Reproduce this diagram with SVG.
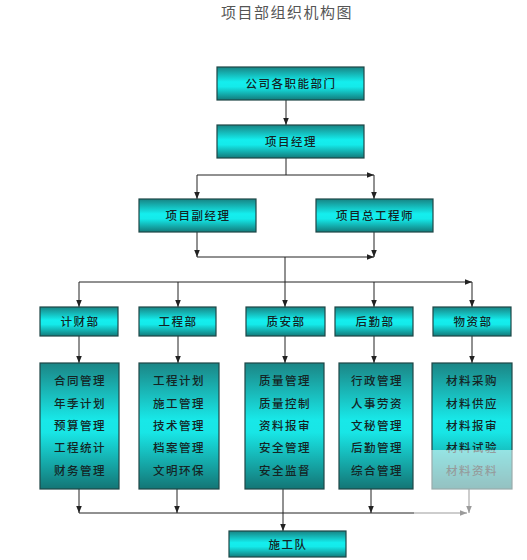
<svg xmlns="http://www.w3.org/2000/svg" width="527" height="560" viewBox="0 0 527 560">
<defs>
<linearGradient id="gBox" x1="0" y1="0" x2="0" y2="1">
<stop offset="0" stop-color="#178484"/>
<stop offset="0.45" stop-color="#14eeee"/>
<stop offset="0.6" stop-color="#14eaea"/>
<stop offset="1" stop-color="#127a7a"/>
</linearGradient>
<linearGradient id="gDet" x1="0" y1="0" x2="0" y2="1">
<stop offset="0" stop-color="#1b8585"/>
<stop offset="0.45" stop-color="#18e8e8"/>
<stop offset="0.55" stop-color="#18e6e6"/>
<stop offset="1" stop-color="#137575"/>
</linearGradient>
<marker id="ar" viewBox="0 0 10 10" refX="10" refY="5" markerWidth="7" markerHeight="7" markerUnits="userSpaceOnUse" orient="auto">
<path d="M0,1 L10,5 L0,9 Z" fill="#222"/>
</marker>
</defs>
<style>
.box{fill:url(#gBox);stroke:#1e4646;stroke-width:1.2}
.det{fill:url(#gDet);stroke:#1e4646;stroke-width:1.2}
.t{font-family:"Noto Sans CJK SC","Noto Sans CJK TC",sans-serif;font-size:11.5px;font-weight:500;fill:#142424;text-anchor:middle;letter-spacing:1.5px}
.ln{stroke:#222;stroke-width:1;fill:none}
.arr{stroke:#222;stroke-width:1;fill:none;marker-end:url(#ar)}
</style>
<rect width="527" height="560" fill="#ffffff"/>
<text x="287" y="18" style="font-family:'Noto Sans CJK SC',sans-serif;font-size:15px;fill:#555;text-anchor:middle;letter-spacing:1.5px">项目部组织机构图</text>

<g id="connectors">
<line class="arr" x1="286" y1="100" x2="286" y2="125"/>
<line class="ln" x1="286" y1="158" x2="286" y2="175"/>
<line class="arr" x1="197" y1="175" x2="374" y2="175"/>
<line class="arr" x1="197" y1="175" x2="197" y2="199"/>
<line class="arr" x1="374" y1="175" x2="374" y2="199"/>
<line class="arr" x1="197" y1="232" x2="197" y2="257"/>
<line class="arr" x1="374" y1="232" x2="374" y2="257"/>
<line class="arr" x1="197" y1="257" x2="374" y2="257"/>
<line class="ln" x1="285" y1="257" x2="285" y2="282"/>
<line class="arr" x1="79" y1="282" x2="472" y2="282"/>
<line class="arr" x1="79" y1="282" x2="79" y2="307"/>
<line class="arr" x1="178" y1="282" x2="178" y2="307"/>
<line class="arr" x1="285" y1="282" x2="285" y2="307"/>
<line class="arr" x1="374" y1="282" x2="374" y2="307"/>
<line class="arr" x1="472" y1="282" x2="472" y2="307"/>
<line class="arr" x1="79" y1="336" x2="79" y2="363"/>
<line class="arr" x1="178" y1="336" x2="178" y2="363"/>
<line class="arr" x1="285" y1="336" x2="285" y2="363"/>
<line class="arr" x1="374" y1="336" x2="374" y2="363"/>
<line class="arr" x1="472" y1="336" x2="472" y2="363"/>
<line class="arr" x1="79" y1="489" x2="79" y2="513"/>
<line class="arr" x1="177" y1="489" x2="177" y2="513"/>
<line class="arr" x1="371" y1="489" x2="371" y2="513"/>
<line class="arr" x1="469" y1="489" x2="469" y2="513"/>
<line class="arr" x1="79" y1="513" x2="467" y2="513"/>
<line class="arr" x1="283" y1="489" x2="283" y2="531"/>
</g>

<g id="n-company"><rect class="box" x="217" y="67" width="147" height="33"/><text class="t" x="291" y="88">公司各职能部门</text></g>
<g id="n-pm"><rect class="box" x="217" y="125" width="147" height="33"/><text class="t" x="291" y="146">项目经理</text></g>
<g id="n-dpm"><rect class="box" x="139" y="199" width="117" height="33"/><text class="t" x="198" y="220">项目副经理</text></g>
<g id="n-ce"><rect class="box" x="316" y="199" width="117" height="33"/><text class="t" x="375" y="220">项目总工程师</text></g>

<g id="n-fin"><rect class="box" x="40" y="307" width="78" height="29"/><text class="t" x="80" y="326">计财部</text></g>
<g id="n-eng"><rect class="box" x="139" y="307" width="77" height="29"/><text class="t" x="178" y="326">工程部</text></g>
<g id="n-qs"><rect class="box" x="246" y="307" width="79" height="29"/><text class="t" x="286" y="326">质安部</text></g>
<g id="n-log"><rect class="box" x="335" y="307" width="78" height="29"/><text class="t" x="375" y="326">后勤部</text></g>
<g id="n-mat"><rect class="box" x="433" y="307" width="78" height="29"/><text class="t" x="473" y="326">物资部</text></g>

<g id="n-fin-d"><rect class="det" x="40" y="363" width="79" height="126"/>
<text class="t" x="80" y="385">合同管理</text><text class="t" x="80" y="408">年季计划</text><text class="t" x="80" y="430">预算管理</text><text class="t" x="80" y="452">工程统计</text><text class="t" x="80" y="475">财务管理</text></g>
<g id="n-eng-d"><rect class="det" x="139" y="363" width="80" height="126"/>
<text class="t" x="179" y="385">工程计划</text><text class="t" x="179" y="408">施工管理</text><text class="t" x="179" y="430">技术管理</text><text class="t" x="179" y="452">档案管理</text><text class="t" x="179" y="475">文明环保</text></g>
<g id="n-qs-d"><rect class="det" x="245" y="363" width="79" height="126"/>
<text class="t" x="285" y="385">质量管理</text><text class="t" x="285" y="408">质量控制</text><text class="t" x="285" y="430">资料报审</text><text class="t" x="285" y="452">安全管理</text><text class="t" x="285" y="475">安全监督</text></g>
<g id="n-log-d"><rect class="det" x="339" y="363" width="74" height="126"/>
<text class="t" x="377" y="385">行政管理</text><text class="t" x="377" y="408">人事劳资</text><text class="t" x="377" y="430">文秘管理</text><text class="t" x="377" y="452">后勤管理</text><text class="t" x="377" y="475">综合管理</text></g>
<g id="n-mat-d"><rect class="det" x="432" y="363" width="80" height="126"/>
<text class="t" x="472" y="385">材料采购</text><text class="t" x="472" y="408">材料供应</text><text class="t" x="472" y="430">材料报审</text><text class="t" x="472" y="452">材料试验</text><text class="t" x="472" y="475">材料资料</text></g>

<rect x="414" y="450" width="100" height="72" fill="#ffffff" opacity="0.55"/>

<g id="n-team"><rect class="box" x="229" y="531" width="117" height="26"/><text class="t" x="288" y="549">施工队</text></g>
</svg>
